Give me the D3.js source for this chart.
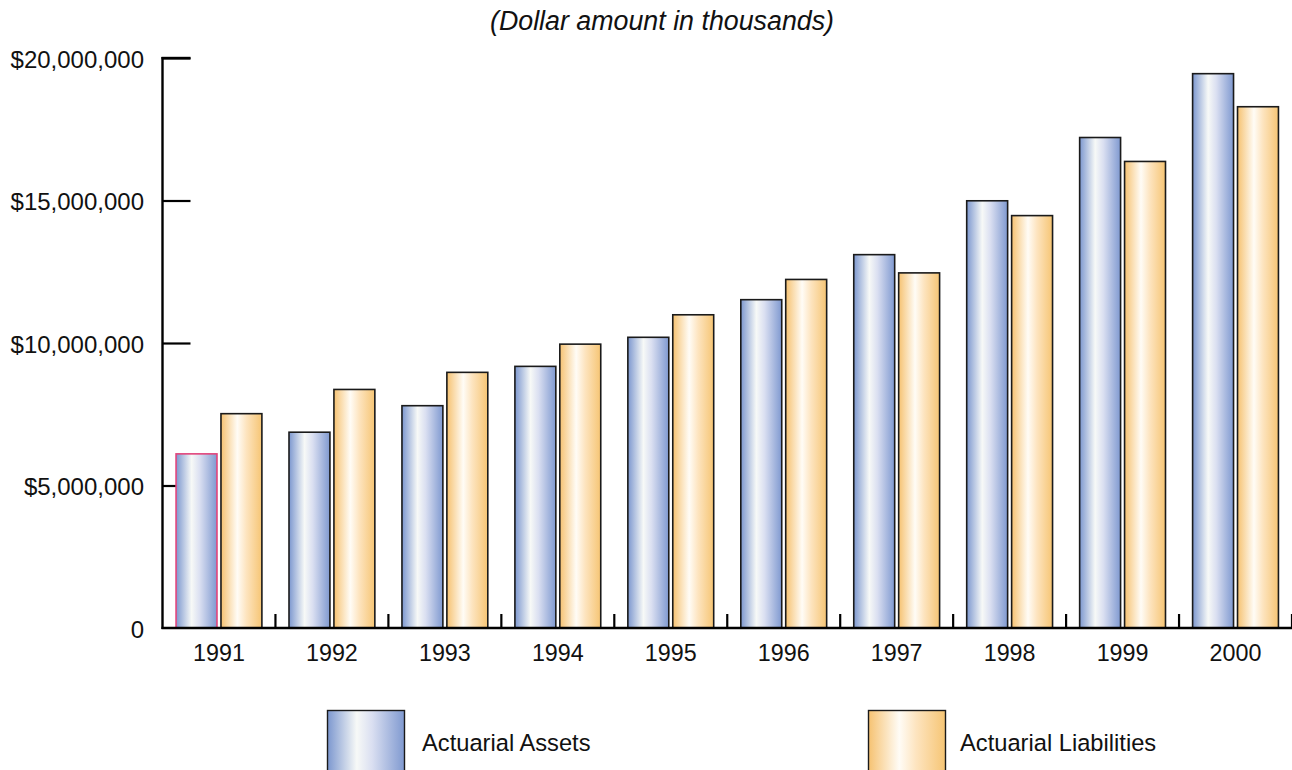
<!DOCTYPE html>
<html>
<head>
<meta charset="utf-8">
<script src="https://cdn.jsdelivr.net/npm/d3@7"></script>
<style>
  html, body { margin: 0; padding: 0; background: #fff; }
  svg { display: block; font-family: "Liberation Sans", Arial, sans-serif; }
</style>
</head>
<body>
<svg id="chart" width="1292" height="770"></svg>
<script>
// Actuarial assets vs. liabilities, 1991-2000 (dollar amounts in thousands)
const years = ["1991", "1992", "1993", "1994", "1995", "1996", "1997", "1998", "1999", "2000"];
const seriesNames = ["Actuarial Assets", "Actuarial Liabilities"];
const assets = [6110000, 6870000, 7800000, 9180000, 10200000, 11520000, 13100000, 14990000, 17210000, 19450000];
const liabilities = [7520000, 8370000, 8970000, 9960000, 10990000, 12230000, 12460000, 14470000, 16370000, 18290000];
const yTicks = [0, 5000000, 10000000, 15000000, 20000000];

(function drawChart() {
  const svg = d3.select("#chart");
  const defs = svg.append("defs");

  // Cylinder-like horizontal gradients for the two series
  function addGradient(id, stops) {
    const g = defs.append("linearGradient").attr("id", id)
      .attr("x1", "0%").attr("x2", "100%").attr("y1", "0%").attr("y2", "0%");
    stops.forEach(([o, c]) => g.append("stop").attr("offset", o).attr("stop-color", c));
  }
  addGradient("gradAssets", [["0%", "#7c97cf"], ["38%", "#f7f9f7"], ["58%", "#dadff1"], ["100%", "#7f99d0"]]);
  addGradient("gradLiab", [["0%", "#f6c271"], ["40%", "#fffcf6"], ["62%", "#fde4bf"], ["100%", "#f6c574"]]);
  const fills = ["url(#gradAssets)", "url(#gradLiab)"];

  const plotLeft = 162.5, plotRight = 1292, plotTop = 58, plotBottom = 628;

  const x0 = d3.scaleBand().domain(years).range([plotLeft, plotRight]).padding(0);
  const bw = x0.bandwidth();
  const x1 = d3.scaleBand().domain(seriesNames)
    .range([bw * 0.12, bw * 0.88]).paddingInner(4 / 45).paddingOuter(0);
  const y = d3.scaleLinear().domain([0, 20000000]).range([plotBottom, plotTop]);

  const fmt = d => d === 0 ? "0" : "$" + d3.format(",")(d);

  // Inner y ticks (drawn under bars) and labels
  const yAxis = d3.axisRight(y).tickValues(yTicks).tickSize(28).tickFormat("");
  const yG = svg.append("g").attr("transform", `translate(${plotLeft},0)`).call(yAxis);
  yG.select(".domain").remove();
  yG.selectAll(".tick line").attr("stroke", "#000").attr("stroke-width", 2.2);
  yG.selectAll(".tick").filter(d => d === 0).remove();

  svg.append("g").selectAll("text").data(yTicks).join("text")
    .attr("x", 144).attr("y", d => y(d)).attr("dy", "0.4em")
    .attr("text-anchor", "end").attr("font-size", "24px").attr("fill", "#111")
    .text(fmt);

  // Bars
  const data = years.map((yr, i) => ({ year: yr, values: [assets[i], liabilities[i]] }));
  const groups = svg.append("g").selectAll("g").data(data).join("g")
    .attr("transform", d => `translate(${x0(d.year)},0)`);
  groups.selectAll("rect").data((d, gi) => d.values.map((v, si) => ({ v, si, gi })))
    .join("rect")
    .attr("x", d => x1(seriesNames[d.si]))
    .attr("width", x1.bandwidth())
    .attr("y", d => y(d.v))
    .attr("height", d => y(0) - y(d.v))
    .attr("fill", d => fills[d.si])
    .attr("stroke", d => (d.gi === 0 && d.si === 0) ? "#e2457c" : "#1a1a1a")
    .attr("stroke-width", 1.6);

  // Axis lines
  svg.append("line").attr("x1", plotLeft).attr("x2", plotLeft).attr("y1", plotTop - 1).attr("y2", plotBottom + 1)
    .attr("stroke", "#000").attr("stroke-width", 2.4);
  svg.append("line").attr("x1", plotLeft - 1).attr("x2", plotLeft + 28).attr("y1", plotTop).attr("y2", plotTop)
    .attr("stroke", "#000").attr("stroke-width", 2.4);
  svg.append("line").attr("x1", plotLeft - 1).attr("x2", plotRight).attr("y1", plotBottom).attr("y2", plotBottom)
    .attr("stroke", "#000").attr("stroke-width", 2.4);

  // Category boundary ticks pointing up from the x axis
  svg.append("g").selectAll("line").data(years).join("line")
    .attr("x1", d => x0(d) + bw).attr("x2", d => x0(d) + bw)
    .attr("y1", plotBottom).attr("y2", plotBottom - 14)
    .attr("stroke", "#000").attr("stroke-width", 2.2);

  // Year labels
  svg.append("g").selectAll("text").data(years).join("text")
    .attr("x", d => x0(d) + bw / 2).attr("y", 661)
    .attr("text-anchor", "middle").attr("font-size", "23.3px").attr("fill", "#111")
    .text(d => d);

  // Title
  svg.append("text").attr("x", 662).attr("y", 29.5).attr("text-anchor", "middle")
    .attr("font-size", "26.8px").attr("font-style", "italic").attr("fill", "#111")
    .text("(Dollar amount in thousands)");

  // Legend
  const legendX = [327.5, 868.5];
  const leg = svg.append("g").selectAll("g").data(seriesNames).join("g")
    .attr("transform", (d, i) => `translate(${legendX[i]},710.5)`);
  leg.append("rect").attr("width", 77).attr("height", 80)
    .attr("fill", (d, i) => fills[i]).attr("stroke", "#1a1a1a").attr("stroke-width", 1.4);
  leg.append("text").attr("x", (d, i) => i === 0 ? 94.5 : 91.5).attr("y", 40)
    .attr("font-size", "23.7px").attr("fill", "#111").text(d => d);
})();
</script>
</body>
</html>
